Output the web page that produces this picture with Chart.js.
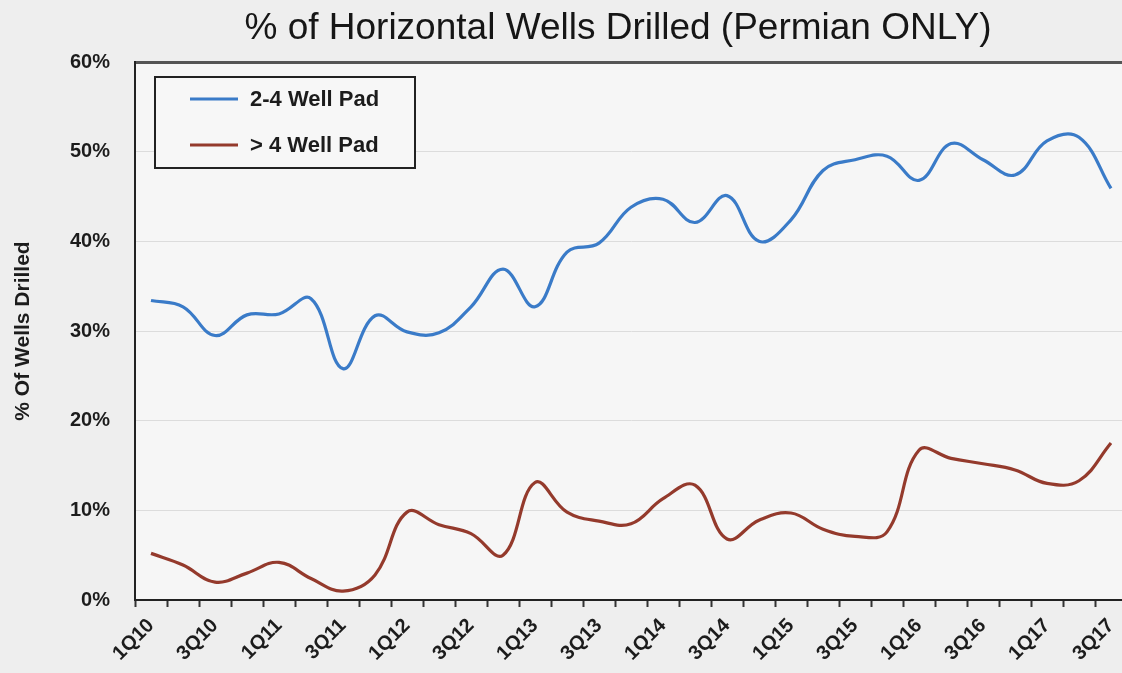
<!DOCTYPE html>
<html>
<head>
<meta charset="utf-8">
<script src="https://cdn.jsdelivr.net/npm/chart.js@4/dist/chart.umd.min.js"></script>
<style>
    html, body { margin: 0; padding: 0; background: #eeeeee; overflow: hidden; }
    #wrap { width: 1142px; height: 673px; }
</style>
</head>
<body>
<div id="wrap"><canvas id="wellsChart" width="1142" height="673"></canvas></div>
<script>
const chartTitle = '% of Horizontal Wells Drilled (Permian ONLY)';
const quarters = [
    '1Q10', '2Q10', '3Q10', '4Q10', '1Q11', '2Q11', '3Q11', '4Q11',
    '1Q12', '2Q12', '3Q12', '4Q12', '1Q13', '2Q13', '3Q13', '4Q13',
    '1Q14', '2Q14', '3Q14', '4Q14', '1Q15', '2Q15', '3Q15', '4Q15',
    '1Q16', '2Q16', '3Q16', '4Q16', '1Q17', '2Q17', '3Q17'
];
const seriesNames = ['2-4 Well Pad', '> 4 Well Pad'];
const pad2to4 = [
    33.4, 32.7, 29.5, 31.8, 31.9, 33.6, 25.8, 31.7,
    29.9, 29.8, 32.7, 36.9, 32.7, 38.8, 39.8, 43.8,
    44.7, 42.1, 45.1, 40.0, 42.4, 47.9, 49.1, 49.5,
    46.8, 50.9, 49.1, 47.4, 51.2, 51.6, 45.9
];
const padOver4 = [
    5.2, 3.9, 2.0, 3.0, 4.2, 2.4, 1.0, 2.8,
    9.8, 8.4, 7.4, 5.0, 13.1, 9.8, 8.8, 8.5,
    11.3, 12.8, 6.8, 8.9, 9.7, 7.9, 7.1, 7.6,
    16.7, 15.8, 15.2, 14.5, 13.0, 13.3, 17.5
];
const yTickValues = [0, 10, 20, 30, 40, 50, 60];

const FONT = '"Liberation Sans", Arial, sans-serif';

// background, title and the boxed legend inside the plot
const decor = {
    id: 'decor',
    beforeDraw(chart) {
        const { ctx, chartArea: a } = chart;
        ctx.save();
        ctx.fillStyle = '#eeeeee';
        ctx.fillRect(0, 0, chart.width, chart.height);
        ctx.fillStyle = '#f6f6f6';
        ctx.fillRect(a.left, a.top, a.right - a.left, a.bottom - a.top);
        ctx.fillStyle = '#161616';
        ctx.font = 'normal 37px ' + FONT;
        ctx.textAlign = 'center';
        ctx.textBaseline = 'middle';
        ctx.fillText(chartTitle, 618, 29);
        ctx.restore();
    },
    afterDraw(chart) {
        const { ctx } = chart;
        ctx.save();
        ctx.fillStyle = '#f7f7f7';
        ctx.fillRect(155, 77, 260, 91);
        ctx.strokeStyle = '#222';
        ctx.lineWidth = 2;
        ctx.strokeRect(155, 77, 260, 91);
        chart.data.datasets.forEach((ds, i) => {
            const y = 99 + i * 46;
            ctx.strokeStyle = ds.borderColor;
            ctx.lineWidth = 3;
            ctx.beginPath();
            ctx.moveTo(190, y);
            ctx.lineTo(238, y);
            ctx.stroke();
            ctx.fillStyle = '#1c1c1c';
            ctx.font = 'bold 22px ' + FONT;
            ctx.textBaseline = 'middle';
            ctx.fillText(ds.label, 250, y + 1);
        });
        ctx.restore();
    }
};

new Chart(document.getElementById('wellsChart'), {
    type: 'line',
    data: {
        labels: quarters,
        datasets: [{
            label: seriesNames[0],
            data: pad2to4,
            borderColor: '#3a7bc8',
            borderWidth: 3.2,
            pointRadius: 0,
            tension: 0.4
        }, {
            label: seriesNames[1],
            data: padOver4,
            borderColor: '#943a2c',
            borderWidth: 3.2,
            pointRadius: 0,
            tension: 0.4
        }]
    },
    options: {
        responsive: false,
        animation: false,
        devicePixelRatio: 1,
        layout: { padding: { top: 62, left: 0, right: 15, bottom: 0 } },
        plugins: {
            legend: { display: false },
            title: { display: false },
            tooltip: { enabled: false }
        },
        scales: {
            x: {
                offset: true,
                grid: {
                    offset: true,
                    drawOnChartArea: false,
                    drawTicks: true,
                    tickLength: 7,
                    tickColor: '#333',
                    tickWidth: 2
                },
                border: { display: true, color: '#222', width: 2 },
                ticks: {
                    autoSkip: false,
                    maxRotation: 45,
                    minRotation: 45,
                    padding: 7,
                    color: '#1c1c1c',
                    font: { family: FONT, size: 20, weight: 'bold' },
                    callback: (val, i) => (i % 2 === 0 ? quarters[i] : '')
                },
                afterFit: (scale) => { scale.height = 73; }
            },
            y: {
                min: 0,
                max: 60,
                afterBuildTicks: (scale) => {
                    scale.ticks = yTickValues.map(v => ({ value: v }));
                },
                grid: {
                    drawTicks: false,
                    color: (c) => (c.tick && c.tick.value === 60 ? '#555' : '#dcdcdc'),
                    lineWidth: (c) => (c.tick && c.tick.value === 60 ? 3 : 1)
                },
                border: { display: true, color: '#222', width: 2 },
                ticks: {
                    padding: 25,
                    color: '#1c1c1c',
                    font: { family: FONT, size: 20, weight: 'bold' },
                    callback: (v) => v + '%'
                },
                title: {
                    display: true,
                    text: '% Of Wells Drilled',
                    color: '#1c1c1c',
                    padding: { top: 11, bottom: 0 },
                    font: { family: FONT, size: 21, weight: 'bold' }
                },
                afterFit: (scale) => { scale.width = 135; }
            }
        }
    },
    plugins: [decor]
});
</script>
</body>
</html>
